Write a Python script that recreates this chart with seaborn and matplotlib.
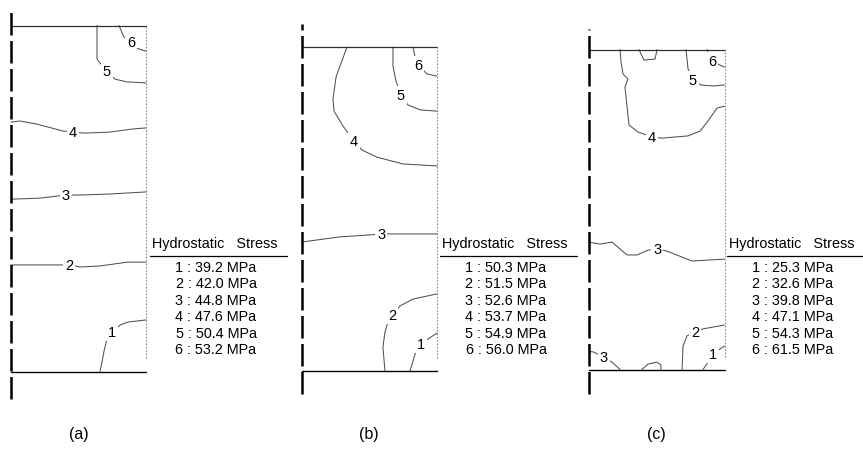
import numpy as np
import pandas as pd
import matplotlib
matplotlib.use("Agg")
import matplotlib.pyplot as plt
import seaborn as sns

# figure size in pixels
W, H = 863, 452

panel_names = ["(a)", "(b)", "(c)"]
legend_title = "Hydrostatic   Stress"
stress_a = [39.2, 42.0, 44.8, 47.6, 50.4, 53.2]
stress_b = [50.3, 51.5, 52.6, 53.7, 54.9, 56.0]
stress_c = [25.3, 32.6, 39.8, 47.1, 54.3, 61.5]

# contour lines
# (level, r / outer radius, z / height, index of the point carrying the label or None)
contours_a = [
    (6, [0.80, 0.835, 0.889, 0.933, 1.0], [1.0, 0.968, 0.952, 0.934, 0.926], 2),
    (5, [0.637, 0.637, 0.652, 0.711, 0.770, 0.859, 1.0],
        [1.0, 0.903, 0.895, 0.868, 0.845, 0.837, 0.834], 3),
    (4, [0.0, 0.067, 0.193, 0.385, 0.459, 0.548, 0.733, 0.904, 1.0],
        [0.721, 0.724, 0.715, 0.695, 0.692, 0.689, 0.692, 0.701, 0.704], 4),
    (3, [0.0, 0.215, 0.341, 0.407, 0.511, 0.733, 1.0],
        [0.498, 0.501, 0.507, 0.510, 0.510, 0.513, 0.519], 3),
    (2, [0.0, 0.363, 0.43, 0.511, 0.659, 0.859, 1.0],
        [0.308, 0.308, 0.309, 0.302, 0.305, 0.316, 0.316], 2),
    (1, [0.659, 0.674, 0.689, 0.711, 0.748, 0.807, 0.867, 1.0],
        [0.0, 0.027, 0.059, 0.094, 0.114, 0.134, 0.143, 0.149], 4),
]
contours_b = [
    (6, [0.823, 0.838, 0.860, 0.926, 1.0], [1.0, 0.969, 0.944, 0.917, 0.910], 2),
    (5, [0.675, 0.675, 0.697, 0.734, 0.786, 0.875, 1.0],
        [1.0, 0.941, 0.895, 0.852, 0.821, 0.806, 0.802], 3),
    (4, [0.336, 0.284, 0.255, 0.232, 0.240, 0.306, 0.387, 0.446, 0.557, 0.749, 1.0],
        [1.0, 0.941, 0.907, 0.840, 0.802, 0.756, 0.710, 0.682, 0.660, 0.639, 0.633], 6),
    (3, [0.0, 0.284, 0.506, 0.587, 0.653, 1.0],
        [0.398, 0.414, 0.420, 0.423, 0.423, 0.423], 3),
    (2, [0.616, 0.601, 0.616, 0.638, 0.668, 0.727, 0.823, 1.0],
        [0.0, 0.074, 0.120, 0.151, 0.173, 0.201, 0.222, 0.238], 4),
    (1, [0.801, 0.838, 0.882, 0.934, 1.0], [0.0, 0.052, 0.083, 0.099, 0.117], 2),
]
contours_c = [
    (6, [0.871, 0.886, 0.908, 0.982, 1.0], [1.0, 0.983, 0.964, 0.948, 0.945], 2),
    (5, [0.717, 0.732, 0.768, 0.827, 0.915, 1.0],
        [1.0, 0.939, 0.905, 0.889, 0.886, 0.889], 2),
    (4, [0.232, 0.239, 0.254, 0.290, 0.268, 0.283, 0.298, 0.364, 0.467, 0.540,
         0.732, 0.820, 0.879, 0.945, 1.0],
        [1.0, 0.961, 0.923, 0.908, 0.883, 0.823, 0.764, 0.742, 0.727, 0.723,
         0.730, 0.745, 0.777, 0.817, 0.823], 8),
    (4, [0.371, 0.408, 0.489, 0.504], [1.0, 0.967, 0.970, 1.0], None),
    (3, [0.0, 0.085, 0.173, 0.283, 0.357, 0.438, 0.504, 0.577, 0.761, 1.0],
        [0.398, 0.392, 0.398, 0.358, 0.358, 0.373, 0.377, 0.370, 0.339, 0.345], 6),
    (3, [0.0, 0.006, 0.035, 0.114, 0.173, 0.232],
        [0.073, 0.056, 0.055, 0.039, 0.023, 0.0], 3),
    (2, [0.393, 0.438, 0.504, 0.533, 0.533], [0.0, 0.017, 0.023, 0.014, 0.0], None),
    (2, [0.688, 0.695, 0.724, 0.783, 0.842, 1.0],
        [0.0, 0.073, 0.105, 0.117, 0.127, 0.139], 3),
    (1, [0.842, 0.879, 0.915, 0.967, 1.0], [0.0, 0.023, 0.048, 0.064, 0.073], 2),
]

# layout of each panel in pixels: left, right, top, bottom, centreline top / bottom
boxes = [
    dict(x0=11, x1=146, top=26.5, bot=372.5, c_top=10, c_bot=400, leg=150),
    dict(x0=301.5, x1=437, top=48, bot=372, c_top=25, c_bot=395, leg=440),
    dict(x0=588.5, x1=724.5, top=50.5, bot=370.5, c_top=30, c_bot=395, leg=727),
]

sns.set_style("white")
plt.rcParams["font.family"] = ["Liberation Sans", "DejaVu Sans"]

fig = plt.figure(figsize=(W / 100, H / 100), dpi=100)

for p, (contours, stress, box) in enumerate(zip([contours_a, contours_b, contours_c],
                                                 [stress_a, stress_b, stress_c], boxes)):
    w = box["x1"] - box["x0"]
    h = box["bot"] - box["top"]
    ax = fig.add_axes([box["x0"] / W, 1 - box["bot"] / H, w / W, h / H])
    ax.set_xlim(0, 1)
    ax.set_ylim(0, 1)
    ax.axis("off")

    rows = []
    for i, (lev, r, z, lab) in enumerate(contours):
        for k, (rr, zz) in enumerate(zip(r, z)):
            rows.append({"line": i, "order": k, "r": rr, "z": zz})
    df = pd.DataFrame(rows)
    sns.lineplot(data=df, x="r", y="z", units="line", estimator=None, sort=False,
                 color="#505050", lw=0.75, ax=ax, clip_on=False)
    ax.set_xlim(0, 1)
    ax.set_ylim(0, 1)
    ax.axis("off")

    for lev, r, z, lab in contours:
        if lab is None:
            continue
        ax.text(r[lab], z[lab], str(lev), ha="center", va="center", fontsize=10.5,
                color="black", zorder=5,
                bbox=dict(boxstyle="square,pad=0.12", fc="white", ec="none"))

    # outline of the section
    ax.plot([0, 1], [1, 1], color="#303030", lw=0.9, clip_on=False)
    ax.plot([0, 1], [0, 0], color="black", lw=1.0, clip_on=False)
    ax.plot([1, 1], [0.04, 1], color="#8a8a8a", lw=0.8, ls=(0, (1.5, 1.5)), clip_on=False)
    zc0 = (box["bot"] - box["c_bot"]) / h
    zc1 = (box["bot"] - box["c_top"]) / h
    ax.plot([0, 0], [zc0, zc1], color="black", lw=1.8, dashes=(9, 2.2),
            clip_on=False, zorder=6)

    # legend table at the right of each section
    lx = box["leg"]
    fig.text((lx + 2) / W, 1 - 244 / H, legend_title, ha="left", va="center",
             fontsize=10.4, color="black")
    fig.add_artist(plt.Line2D([lx / W, (lx + 137) / W], [1 - 257 / H, 1 - 257 / H],
                              color="black", lw=0.9))
    cx = lx + 66
    for j, v in enumerate(stress):
        fig.text(cx / W, 1 - (268 + 16.4 * j) / H, f"{j + 1} : {v:.1f} MPa",
                 ha="center", va="center", fontsize=10.4, color="black")

    fig.text((box["x0"] + w / 2) / W, 1 - 435 / H, panel_names[p], ha="center",
             va="center", fontsize=11.5, color="black")

fig.savefig("out.png", dpi=100, facecolor="white")
